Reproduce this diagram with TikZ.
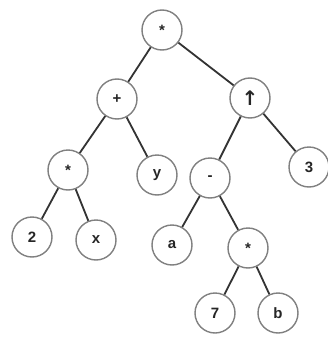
\documentclass[tikz,border=0pt]{standalone}
\usepackage{fontspec}
\setmainfont{Liberation Sans}
\newfontfamily\symfont{DejaVu Sans}
\begin{document}
\begin{tikzpicture}[x=1pt,y=-1pt,
  tn/.style={circle,draw=black!50,line width=1.4pt,fill=white,minimum size=40pt,inner sep=0pt,font=\bfseries\fontsize{15}{15}\selectfont,text=black!85},
  ed/.style={draw=black!80,line width=1.8pt}]
\useasboundingbox (0,0) rectangle (327,343);
\node[tn] (r) at (162,30) {*};
\node[tn] (p) at (117,99) {+};
\node[tn] (u) at (250,98) {\symfont\bfseries\fontsize{20}{20}\selectfont ↑};
\node[tn] (m1) at (68,170) {*};
\node[tn] (y) at (157,175) {y};
\node[tn] (mi) at (210,178) {-};
\node[tn] (t) at (309,167) {3};
\node[tn] (two) at (32,237) {2};
\node[tn] (x) at (96,240) {x};
\node[tn] (a) at (172,245) {a};
\node[tn] (m2) at (248,248) {*};
\node[tn] (s) at (215,313) {7};
\node[tn] (b) at (278,313) {b};
\draw[ed] (r) -- (p);
\draw[ed] (r) -- (u);
\draw[ed] (p) -- (m1);
\draw[ed] (p) -- (y);
\draw[ed] (u) -- (mi);
\draw[ed] (u) -- (t);
\draw[ed] (m1) -- (two);
\draw[ed] (m1) -- (x);
\draw[ed] (mi) -- (a);
\draw[ed] (mi) -- (m2);
\draw[ed] (m2) -- (s);
\draw[ed] (m2) -- (b);
\end{tikzpicture}
\end{document}
